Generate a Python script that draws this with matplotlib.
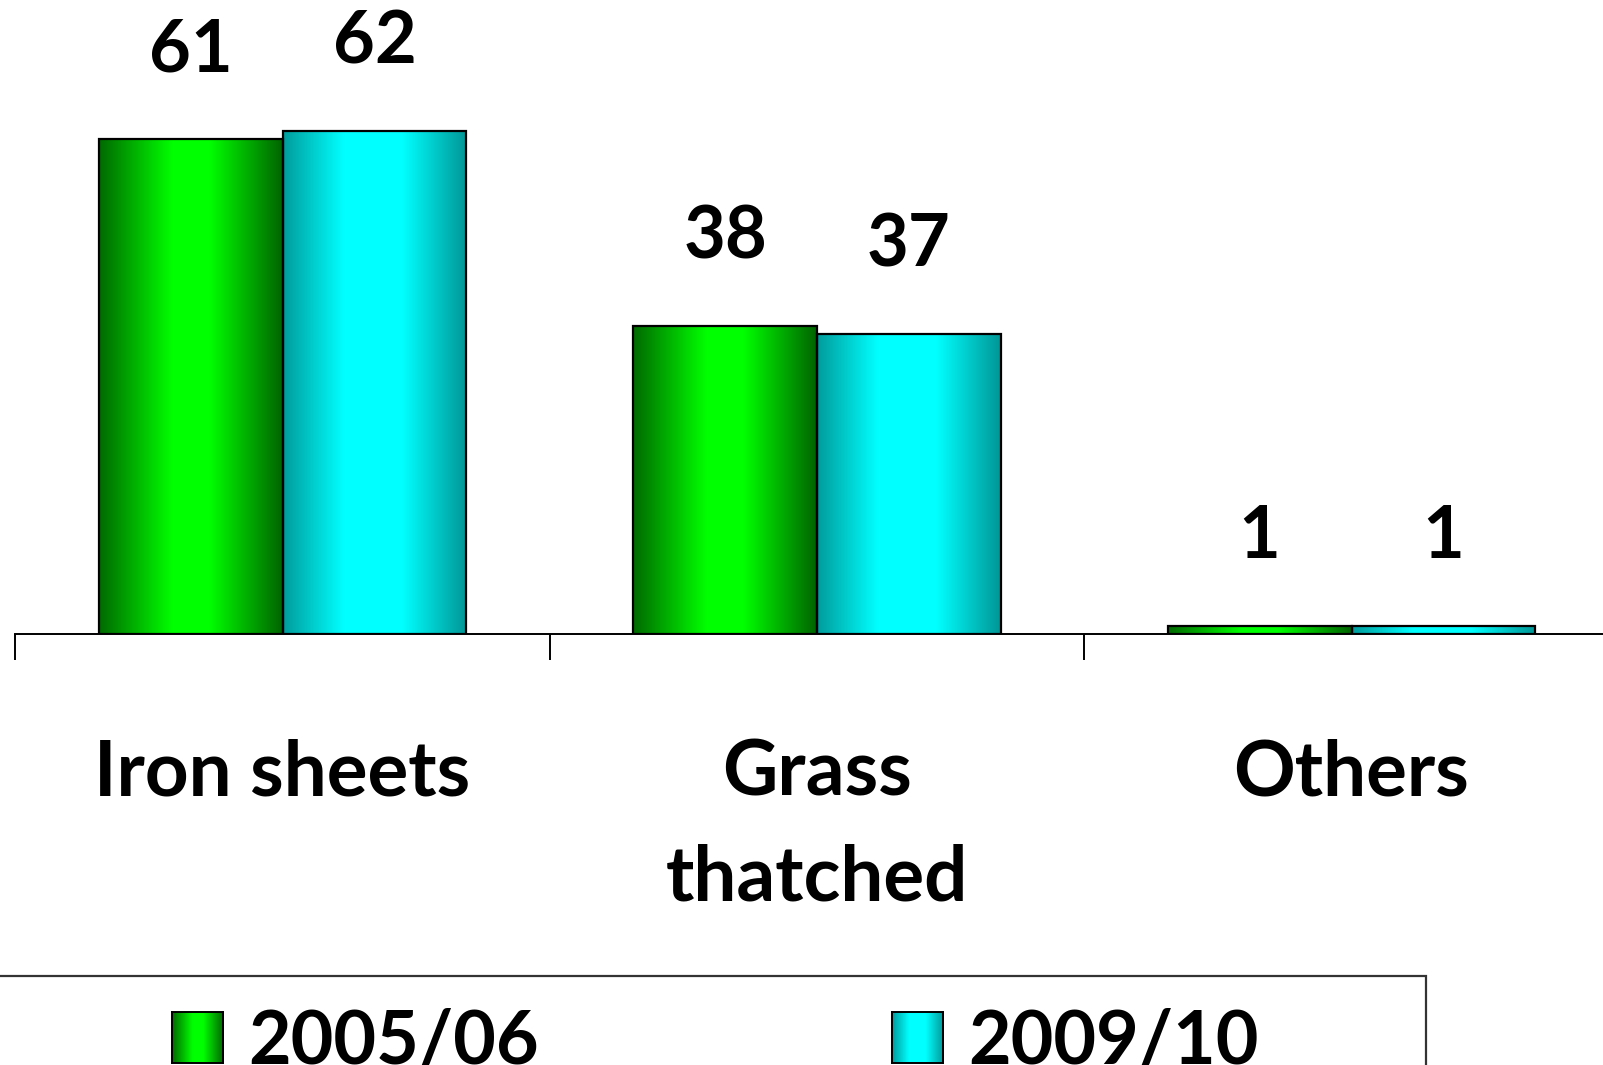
import numpy as np
import matplotlib
matplotlib.use("Agg")
import matplotlib.pyplot as plt
from matplotlib.colors import LinearSegmentedColormap
from matplotlib.patches import Rectangle

# Roofing material shares (%)
categories = ["Iron sheets", "Grass\nthatched", "Others"]
series_names = ["2005/06", "2009/10"]
values_2005 = [61, 38, 1]
values_2009 = [62, 37, 1]

W, H = 1603, 1065
fig = plt.figure(figsize=(W / 100, H / 100), dpi=100)
FONT = dict(family=["Lato", "DejaVu Sans"], weight="bold", color="black")

green_map = LinearSegmentedColormap.from_list(
    "green_shade", [(0, "#006a00"), (0.4, "#00ff00"), (0.6, "#00ff00"), (1, "#006400")])
cyan_map = LinearSegmentedColormap.from_list(
    "cyan_shade", [(0, "#009c9c"), (0.33, "#00ffff"), (0.65, "#00ffff"), (1, "#009696")])
gradient = np.linspace(0, 1, 256).reshape(1, -1)

ax = fig.add_axes([15.3 / W, 431 / H, 3 * 534.5 / W, 70 * 8.11 / H])

x = np.arange(len(categories)) + 0.5
bw = 0.344


def shaded_bars(ax, xs, vals, cmap):
    bars = ax.bar(xs, vals, bw, facecolor="none", edgecolor="black",
                  linewidth=1.6, zorder=3)
    for b in bars:
        x0, y0 = b.get_x(), b.get_y()
        im = ax.imshow(gradient, cmap=cmap, aspect="auto", zorder=2,
                       extent=(x0, x0 + b.get_width(), y0, y0 + b.get_height()),
                       interpolation="bilinear")
        im.set_clip_path(b)
    return bars


shaded_bars(ax, x - bw / 2, values_2005, green_map)
shaded_bars(ax, x + bw / 2, values_2009, cyan_map)

for xs, vals in ((x - bw / 2, values_2005), (x + bw / 2, values_2009)):
    for xi, v in zip(xs, vals):
        ax.annotate(str(v), xy=(xi, v), xytext=(0, 88), textcoords="offset pixels",
                    ha="center", va="center", fontsize=52, **FONT)

for xi, cat in zip(x, categories):
    ax.annotate(cat, xy=(xi, 0), xytext=(0, -104), textcoords="offset pixels",
                ha="center", va="top", fontsize=55, linespacing=1.62, **FONT)

ax.set_xlim(0, 3)
ax.set_ylim(0, 70)
ax.set_xticks([0, 1, 2, 3])
ax.tick_params(axis="x", direction="out", length=19, width=1.4,
               labelbottom=False, color="black")
ax.set_yticks([])
for side in ("top", "left", "right"):
    ax.spines[side].set_visible(False)
ax.spines["bottom"].set_linewidth(1.4)
ax.patch.set_visible(False)

# Legend box
fig.add_artist(Rectangle((-0.01, -0.1), 1426 / W + 0.01, 0.1 + (H - 976) / H,
                         transform=fig.transFigure, fill=False,
                         edgecolor="#333333", linewidth=1.6))

for name, cmap, sx in zip(series_names, (green_map, cyan_map), (172, 892)):
    sw = fig.add_axes([sx / W, (H - 1063) / H, 51 / W, 51 / H])
    sw.imshow(gradient, cmap=cmap, aspect="auto", interpolation="bilinear")
    sw.set_xticks([])
    sw.set_yticks([])
    for sp in sw.spines.values():
        sp.set_linewidth(1.4)
    fig.text((sx + 76) / W, (H - 1064) / H, name, ha="left", va="baseline",
             fontsize=53, **FONT)

fig.savefig("out.png", dpi=100, facecolor="white")
